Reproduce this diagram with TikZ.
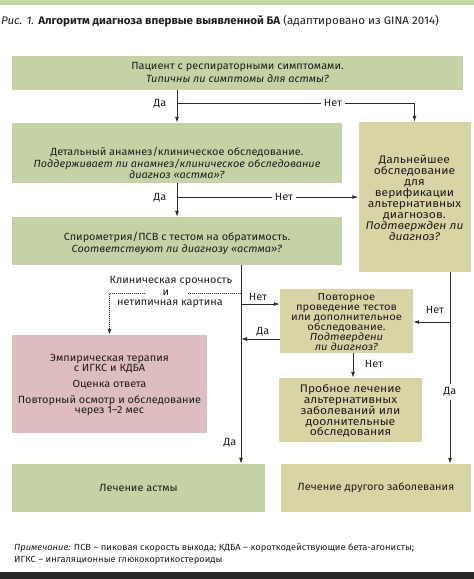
\documentclass[tikz,border=0pt]{standalone}
\usepackage{fontspec}
\setmainfont{Fira Sans}[FakeStretch=1.05]
\newfontfamily\fsB{Fira Sans}[FakeStretch=1.1]
\usetikzlibrary{arrows.meta}
\definecolor{gfill}{HTML}{C5D2A6}
\definecolor{tfill}{HTML}{D8D4A5}
\definecolor{pfill}{HTML}{DDBDBD}
\definecolor{lcol}{HTML}{2B2B2B}
\definecolor{topband}{HTML}{C2D6A6}
\definecolor{tcol}{HTML}{1E1E1E}
\begin{document}
\begin{tikzpicture}[x=1pt,y=-1pt,
  boxbase/.style={rectangle, inner sep=0pt, draw=none},
  gbox/.style={boxbase, fill=gfill},
  tbox/.style={boxbase, fill=tfill},
  pbox/.style={boxbase, fill=pfill},
  txt/.style={align=center, text=tcol, inner sep=0pt, font=\fontsize{10.4}{#1}\selectfont},
  txt/.default=12,
  rtxt/.style={align=center, text=tcol, inner sep=0pt, font={\fsB\fontsize{10.2}{#1}\selectfont}},
  rbig/.style={align=center, text=tcol, inner sep=0pt, font={\fsB\fontsize{11}{#1}\selectfont}},
  lab/.style={text=tcol, inner sep=1pt, font=\fontsize{10.4}{12}\selectfont},
  ln/.style={draw=lcol, line width=0.9pt},
  arr/.style={ln, -{Latex[length=6pt,width=4pt]}},
  dotln/.style={draw=lcol, line width=0.9pt, dash pattern=on 0.9pt off 1.1pt, -{Latex[length=6pt,width=4pt]}}
]
\useasboundingbox (0,0) rectangle (474,579);
\fill[white] (0,0) rectangle (474,579);
\fill[topband] (0,0) rectangle (474,5);
\fill[black!85] (0,572) rectangle (474,579);

% title
\node[anchor=west, inner sep=0pt, text=tcol, font=\fontsize{11}{12}\selectfont] (title) at (1,21)
  {\textit{Рис. 1.} \textbf{Алгоритм диагноза впервые выявленной БА} (адаптировано из GINA 2014)};

% boxes
\node[gbox, minimum width=451pt, minimum height=34pt] (b1) at (237.5,73) {};
\node[txt=13] (t1) at (237.5,72.5) {Пациент с респираторными симптомами.\\ \textit{Типичны ли симптомы для астмы?}};

\node[gbox, minimum width=330pt, minimum height=60pt] (b2) at (177,153) {};
\node[txt=11.5] (t2) at (177,163) {Детальный анамнез/клиническое обследование.\\ \textit{Поддерживает ли анамнез/клиническое обследование}\\ \textit{диагноз «астма»?}};

\node[tbox, minimum width=112pt, minimum height=150pt] (b3) at (414.5,197) {};
\node[rbig=11] (t3) at (414.5,198) {Дальнейшее\\ обследование\\ для\\ верификации\\ альтернативных\\ диагнозов.\\ \textit{Подтвержден ли}\\ \textit{диагноз?}};

\node[gbox, minimum width=330pt, minimum height=48pt] (b4) at (177,241) {};
\node[txt=12] (t4) at (177,243) {Спирометрия/ПСВ с тестом на обратимость.\\ \textit{Соответствуют ли диагнозу «астма»?}};

\node[tbox, minimum width=133pt, minimum height=64pt] (b5) at (346.5,321) {};
\node[rtxt=10] (t5) at (346.5,322) {Повторное\\ проведение тестов\\ или дополнительное\\ обследование.\\ \textit{Подтвердени}\\ \textit{ли диагноз?}};

\node[pbox, minimum width=195pt, minimum height=98pt] (b6) at (109.5,384) {};
\node[txt=10] (t6) at (109.5,384.5) {Эмпирическая терапия\\ с ИГКС и КДБА\\[6pt] Оценка ответа\\[6pt] Повторный осмотр и обследование\\ через 1–2 мес};

\node[tbox, minimum width=143pt, minimum height=64pt] (b7) at (350.5,410) {};
\node[rbig=10.5] (t7) at (350.5,411) {Пробное лечение\\ альтернативных\\ заболеваний или\\ доолнительные\\ обследования};

\node[gbox, minimum width=253pt, minimum height=48pt] (b8) at (138.5,488) {};
\node[txt] (t8) at (138.5,488) {Лечение астмы};

\node[tbox, minimum width=190pt, minimum height=48pt] (b9) at (376,488) {};
\node[txt] (t9) at (376,488) {Лечение другого заболевания};

% lanes and junctions
\coordinate (cL) at (177,0);
\coordinate (cM) at (241,0);
\coordinate (cR) at (450,0);
\coordinate (cB) at (353,0);
\coordinate (j1) at (177,103);
\coordinate (j2) at (177,197);
\coordinate (j3) at (241,304);
\coordinate (j4) at (241,339);
\coordinate (j5) at (450,322);
\coordinate (j6) at (241,293);

% connectors
\draw[arr] (b1.south -| cL) -- (b2.north -| cL);
\draw[arr] (j1) -- (j1 -| b3.north) -- (b3.north);
\node[lab] at (160,104) {Да};
\node[lab, fill=white, inner xsep=3pt] at (333,103) {Нет};

\draw[arr] (b2.south -| cL) -- (b4.north -| cL);
\draw[arr] (j2) -- (b3.west |- j2);
\node[lab] at (160,198) {Да};
\node[lab, fill=white, inner xsep=3pt] at (284,197) {Нет};

\draw[arr] (b4.south -| cM) -- (b8.north -| cM);
\draw[arr] (j3) -- (b5.west |- j3);
\node[lab] at (258,297) {Нет};
\draw[arr] (b5.west |- j4) -- (j4);
\node[lab] at (263,332) {Да};
\node[lab] at (230,443) {Да};

\draw[arr] (b3.south -| cR) -- (b9.north -| cR);
\node[lab, fill=white, inner ysep=4pt] at (450,392) {Да};
\draw[arr] (j5) -- (b5.east |- j5);
\node[lab] at (435,310) {Нет};

\draw[arr] (b5.south -| cB) -- (b7.north -| cB);
\node[lab] at (374,364) {Нет};

% dotted branch
\draw[dotln] (j6) -- (j6 -| b6.north) -- (b6.north);
\node[lab, fill=white, inner xsep=18pt, inner ysep=0pt] (und) at (166,293) {и};
\node[lab] (kl1) at (171,281) {Клиническая срочность};
\node[lab] (kl2) at (170,304) {нетипичная картина};

% note
\node[anchor=north west, align=left, inner sep=0pt, text=tcol, font=\fontsize{8.9}{12}\selectfont] (note) at (14,543)
  {\textit{Примечание:} ПСВ – пиковая скорость выхода; КДБА – короткодействующие бета-агонисты;\\ ИГКС – ингаляционные глюкокортикостероиды};
\end{tikzpicture}
\end{document}
